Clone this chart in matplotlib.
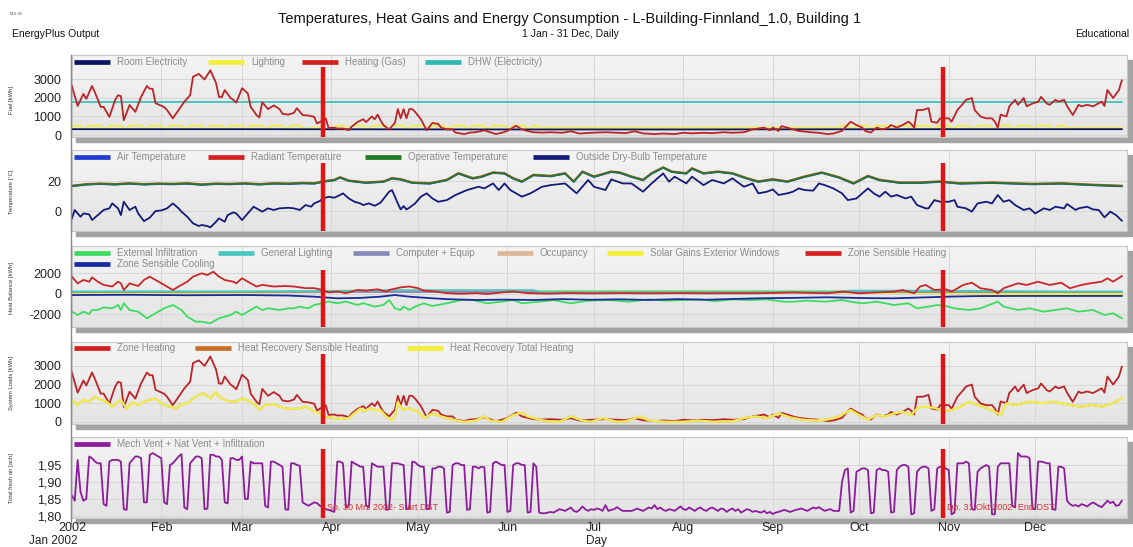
import matplotlib.pyplot as plt
import numpy as np
from matplotlib.lines import Line2D
from matplotlib.patches import Rectangle
from matplotlib.colors import LinearSegmentedColormap

plt.rcParams['font.family'] = ['Liberation Sans', 'DejaVu Sans']
plt.rcParams['axes.unicode_minus'] = False

# ---------------- data (day of year 2002, 0 = 1 Jan) ----------------
month_days = [0, 31, 59, 90, 120, 151, 181, 212, 243, 273, 304, 334]
month_labels = ['2002', 'Feb', 'Mar', 'Apr', 'May', 'Jun', 'Jul', 'Aug', 'Sep', 'Oct', 'Nov', 'Dec']
dst_days = [87, 302]
dst_labels = ['So. 30 Mrz 2002- Start DST', 'Do. 31 Okt 2002- End DST']

# heating (gas) = zone heating [kWh]
heat_days = [0, 2, 4, 5, 7, 8, 10, 11, 13, 15, 16, 17, 18, 20, 22, 24, 26, 27, 28, 29,
             32, 33, 35, 37, 39, 41, 42, 44, 46, 48, 50, 51, 52, 53, 55, 56, 57, 59, 61, 62,
             64, 65, 66, 68, 70, 72, 73, 75, 77, 78, 80, 82, 84, 85, 87, 88, 89, 91, 92, 94,
             96, 97, 99, 101, 102, 104, 105, 106, 107, 108, 110, 112, 113, 114, 115, 116, 117, 118, 119, 121,
             123, 125, 127, 128, 130, 132, 133, 136, 138, 140, 143, 145, 147, 149, 151, 154, 156, 158, 160, 163,
             166, 170, 173, 176, 180, 185, 188, 192, 195, 198, 202, 205, 209, 212, 215, 219, 222, 226, 229, 233,
             236, 240, 242, 243, 245, 246, 248, 250, 252, 256, 259, 262, 264, 267, 268, 270, 272, 274, 275, 277,
             279, 281, 283, 284, 286, 288, 290, 291, 292, 293, 295, 297, 298, 300, 301, 303, 304, 305, 307, 309,
             310, 312, 313, 315, 317, 319, 320, 321, 322, 324, 325, 327, 328, 330, 331, 333, 335, 336, 338, 339,
             341, 342, 344, 345, 347, 349, 350, 352, 354, 355, 357, 358, 359, 361, 363, 364]
heat_vals = [2650, 1570, 2220, 1950, 2650, 2300, 1520, 1520, 980, 1890, 2150, 2100, 800, 1620, 1250, 2060, 2650, 2500, 2500, 1720,
             1510, 1350, 900, 1350, 1800, 2150, 3150, 3300, 3000, 3500, 2800, 2060, 2050, 2430, 2000, 1900, 1750, 2530, 2250, 1520,
             1080, 950, 1770, 1400, 1600, 1400, 1150, 1100, 1200, 1450, 1080, 1050, 980, 620, 800, 900, 380, 400, 350, 350,
             260, 450, 700, 850, 700, 1000, 850, 1100, 800, 540, 300, 660, 1400, 900, 1400, 900, 1400, 1400, 1250, 850,
             260, 650, 600, 400, 300, 300, 130, 50, 130, 150, 250, 150, 50, 120, 220, 500, 300, 220, 150, 130,
             150, 120, 200, 80, 120, 150, 130, 100, 200, 90, 50, 80, 50, 120, 90, 120, 100, 150, 120, 150,
             300, 400, 250, 400, 220, 480, 400, 300, 220, 150, 120, 50, 80, 220, 400, 720, 540, 400, 220, 130,
             400, 300, 400, 540, 400, 540, 720, 600, 400, 1350, 1350, 1450, 720, 660, 900, 900, 900, 720, 1350, 1700,
             1900, 2000, 1350, 1000, 900, 900, 720, 400, 1100, 1000, 1550, 1900, 1630, 2000, 1550, 1700, 1800, 2060, 1700, 1630,
             1900, 1800, 1900, 1570, 1080, 1630, 1550, 1630, 1550, 1630, 1800, 1570, 2430, 2000, 2430, 2950]

# room electricity [kWh]
elec_days = [0, 31, 59, 90, 120, 151, 181, 212, 243, 273, 304, 334, 364]
elec_vals = [315, 315, 315, 310, 305, 300, 300, 300, 305, 310, 315, 315, 315]

# DHW (electricity) [kWh]
dhw_days = [0, 364]
dhw_vals = [1800, 1800]

# lighting [kWh], daily, rows of 7 days starting Tue 1 Jan
lighting_daily = [
    390, 500, 500, 500, 340, 340, 500,
    500, 500, 500, 500, 340, 340, 500,
    500, 500, 500, 500, 340, 340, 500,
    500, 500, 500, 500, 340, 340, 500,
    500, 500, 500, 500, 340, 340, 500,
    500, 500, 500, 500, 340, 340, 500,
    500, 500, 500, 500, 340, 340, 500,
    500, 500, 500, 500, 340, 340, 500,
    500, 500, 500, 500, 340, 340, 500,
    500, 500, 500, 500, 340, 340, 500,
    500, 500, 500, 500, 340, 340, 500,
    500, 500, 500, 390, 340, 340, 390,
    390, 390, 390, 390, 340, 340, 390,
    390, 500, 500, 500, 340, 340, 500,
    500, 500, 500, 500, 340, 340, 500,
    500, 500, 500, 500, 340, 340, 500,
    500, 500, 500, 500, 340, 340, 500,
    500, 500, 500, 500, 340, 340, 500,
    500, 500, 500, 500, 340, 340, 500,
    500, 500, 500, 500, 340, 340, 500,
    500, 500, 500, 500, 340, 340, 500,
    500, 500, 500, 500, 340, 340, 500,
    500, 500, 500, 500, 340, 340, 500,
    500, 390, 390, 390, 390, 390, 390,
    390, 390, 390, 390, 390, 390, 390,
    390, 390, 390, 390, 390, 390, 390,
    390, 390, 390, 390, 390, 390, 390,
    390, 390, 390, 390, 390, 390, 390,
    390, 390, 390, 390, 390, 390, 390,
    390, 390, 390, 390, 390, 390, 390,
    390, 390, 390, 390, 390, 390, 390,
    390, 390, 390, 390, 390, 390, 390,
    390, 390, 390, 390, 390, 390, 390,
    390, 390, 390, 390, 390, 390, 390,
    390, 390, 390, 390, 390, 390, 390,
    390, 390, 390, 390, 390, 390, 390,
    390, 390, 390, 390, 390, 390, 390,
    390, 390, 390, 390, 390, 390, 390,
    390, 500, 500, 500, 340, 340, 500,
    500, 500, 500, 500, 340, 340, 500,
    500, 500, 500, 500, 340, 340, 500,
    500, 500, 500, 500, 340, 340, 500,
    500, 500, 500, 500, 340, 340, 500,
    500, 500, 500, 500, 340, 340, 500,
    500, 500, 500, 500, 340, 340, 500,
    500, 500, 500, 500, 340, 340, 500,
    500, 500, 500, 500, 340, 340, 500,
    500, 500, 500, 500, 340, 340, 500,
    500, 500, 500, 500, 340, 340, 500,
    500, 500, 370, 370, 370, 370, 370,
    370, 370, 370, 370, 370, 370, 370,
    370, 370, 370, 370, 370, 370, 370,
    370]

# indoor temperatures [C]
indoor_days = [0, 5, 10, 15, 20, 25, 30, 35, 40, 45, 50, 55, 60, 65, 70, 75, 80, 84, 87, 91,
               93, 96, 102, 108, 111, 114, 118, 124, 130, 134, 139, 142, 146, 150, 153, 156, 160, 166, 171, 174,
               177, 181, 187, 190, 194, 198, 201, 205, 208, 213, 215, 219, 224, 229, 234, 238, 243, 248, 254, 260,
               266, 271, 276, 280, 287, 294, 301, 308, 319, 333, 343, 355, 364]
operative_temp = [16.7, 17.8, 18.2, 17.8, 18.4, 17.8, 18.2, 18.0, 18.4, 17.6, 18.2, 18.0, 18.4, 17.8, 18.4, 18.2, 18.6, 18.4, 19.6, 20.7,
                  22.4, 20.2, 18.9, 19.6, 21.8, 21.1, 18.9, 18.4, 20.7, 25.1, 21.8, 22.9, 25.6, 25.1, 21.8, 19.6, 24.0, 23.3, 25.1, 19.6,
                  26.2, 22.9, 26.2, 25.6, 22.9, 20.7, 25.1, 29.0, 26.2, 25.1, 28.4, 25.1, 26.2, 25.1, 21.8, 19.6, 21.1, 19.6, 22.9, 25.6,
                  22.4, 18.4, 23.3, 20.7, 18.9, 18.9, 19.6, 18.4, 18.9, 18.0, 18.4, 17.3, 16.7]
air_temp = [16.5, 17.6, 18.0, 17.6, 18.2, 17.6, 18.0, 17.8, 18.2, 17.4, 18.0, 17.8, 18.2, 17.6, 18.2, 18.0, 18.4, 18.2, 19.4, 20.5,
            22.2, 20.0, 18.7, 19.4, 21.6, 20.9, 18.7, 18.2, 20.5, 24.9, 21.6, 22.7, 25.4, 24.9, 21.6, 19.4, 23.8, 23.1, 24.9, 19.4,
            26.0, 22.7, 26.0, 25.4, 22.7, 20.5, 24.9, 28.8, 26.0, 24.9, 28.2, 24.9, 26.0, 24.9, 21.6, 19.4, 20.9, 19.4, 22.7, 25.4,
            22.2, 18.2, 23.1, 20.5, 18.7, 18.7, 19.4, 18.2, 18.7, 17.8, 18.2, 17.1, 16.5]
radiant_temp = [17.0, 18.1, 18.5, 18.1, 18.7, 18.1, 18.5, 18.3, 18.7, 17.9, 18.5, 18.3, 18.7, 18.1, 18.7, 18.5, 18.9, 18.7, 19.9, 21.0,
                22.7, 20.5, 19.2, 19.9, 22.1, 21.4, 19.2, 18.7, 21.0, 25.4, 22.1, 23.2, 25.9, 25.4, 22.1, 19.9, 24.3, 23.6, 25.4, 19.9,
                26.5, 23.2, 26.5, 25.9, 23.2, 21.0, 25.4, 29.3, 26.5, 25.4, 28.7, 25.4, 26.5, 25.4, 22.1, 19.9, 21.4, 19.9, 23.2, 25.9,
                22.7, 18.7, 23.6, 21.0, 19.2, 19.2, 19.9, 18.7, 19.2, 18.3, 18.7, 17.6, 17.0]

# outside dry-bulb temperature [C]
outside_days = [0, 1, 3, 4, 6, 7, 9, 11, 13, 14, 16, 17, 18, 20, 22, 23, 25, 27, 29, 31,
                33, 35, 37, 38, 40, 42, 44, 45, 47, 48, 50, 51, 53, 54, 56, 57, 59, 61, 63, 65,
                66, 68, 70, 72, 75, 77, 79, 81, 83, 84, 86, 87, 89, 91, 93, 94, 96, 98, 100, 101,
                103, 105, 107, 110, 111, 113, 114, 115, 116, 117, 119, 121, 123, 125, 127, 130, 133, 137, 141, 143,
                146, 148, 150, 152, 156, 159, 163, 166, 171, 175, 177, 179, 181, 185, 187, 191, 194, 198, 201, 205,
                207, 209, 213, 215, 219, 222, 226, 229, 233, 236, 238, 241, 243, 245, 248, 250, 252, 254, 257, 259,
                261, 264, 267, 269, 272, 274, 276, 278, 280, 282, 284, 286, 289, 291, 293, 296, 297, 299, 301, 304,
                306, 307, 310, 312, 314, 317, 319, 321, 323, 325, 327, 330, 332, 334, 337, 339, 341, 344, 345, 348,
                349, 352, 354, 356, 358, 360, 362, 364]
outside_temp = [-4.9, 0.7, -3.8, -1.6, -2.2, -6.0, -2.7, 0.7, 1.8, 5.1, 1.8, -2.7, 6.2, 0.7, 2.9, -1.6, -6.7, -4.4, 0.0, 0.4,
                1.8, 5.1, 1.8, -0.4, -3.8, -8.2, -10.0, -9.3, -10.0, -10.9, -7.1, -4.9, -7.1, -2.7, -0.9, -1.6, -6.0, -1.6, 2.9, 0.7,
                -0.4, 1.8, 0.7, 1.8, 2.2, 1.8, 0.7, 4.0, 2.9, 5.1, 6.7, 8.4, 9.5, 8.9, 10.7, 11.8, 8.4, 6.2, 5.1, 4.0,
                5.1, 3.5, 5.6, 12.9, 14.0, 5.1, 1.1, 3.3, 1.1, 2.2, 5.1, 9.6, 11.8, 8.4, 6.2, 7.3, 10.7, 14.0, 16.2, 15.1,
                18.4, 14.0, 18.4, 14.0, 9.6, 11.8, 16.2, 17.3, 18.4, 11.8, 16.2, 20.7, 16.2, 14.0, 21.1, 18.4, 18.4, 12.9, 18.4, 25.1,
                19.6, 22.9, 18.4, 22.9, 17.3, 20.7, 18.4, 21.8, 16.2, 18.4, 11.8, 12.9, 14.4, 10.7, 11.8, 12.9, 15.1, 14.0, 13.6, 18.4,
                17.3, 15.1, 11.8, 7.3, 8.4, 11.8, 15.1, 11.8, 9.6, 12.9, 9.6, 10.7, 8.4, 9.6, 4.0, 1.8, 1.8, 7.3, 6.2, 6.2,
                7.3, 2.9, 1.8, -0.4, 5.1, 6.2, 5.1, 10.7, 6.2, 7.3, 4.0, 0.7, 1.8, -1.6, 1.8, 0.7, 2.9, 1.8, 4.7, 0.7,
                1.8, 2.9, 1.1, 0.7, -4.2, -0.4, -2.7, -6.4]

# heat balance [kWh]
infil_days = [0, 2, 4, 6, 7, 9, 11, 14, 16, 17, 18, 20, 23, 26, 29, 32, 35, 38, 40, 43,
              45, 48, 51, 55, 57, 59, 62, 64, 66, 68, 72, 75, 77, 79, 82, 84, 87, 89, 92, 95,
              99, 101, 105, 108, 110, 112, 114, 115, 117, 119, 122, 125, 130, 135, 139, 144, 149, 153, 156, 162,
              167, 173, 179, 186, 193, 200, 206, 212, 218, 223, 229, 235, 241, 244, 247, 250, 255, 261, 267, 270,
              274, 279, 285, 290, 293, 297, 300, 303, 306, 311, 315, 318, 321, 323, 328, 332, 337, 341, 345, 349,
              354, 358, 361, 364]
infil_vals = [-1720, -2050, -1720, -1950, -1560, -1560, -1300, -1400, -1070, -1560, -900, -1560, -1720, -2370, -1880, -1400, -1070, -1560, -2210, -2700,
              -2700, -2860, -2370, -2050, -1720, -2050, -1560, -1230, -1560, -1400, -1560, -1400, -1400, -1230, -1400, -1070, -900, -740, -900, -740,
              -1070, -900, -1230, -1070, -590, -1400, -1560, -1230, -1560, -1230, -910, -1170, -910, -590, -590, -910, -750, -590, -910, -750,
              -590, -910, -650, -590, -750, -530, -650, -590, -530, -690, -530, -590, -530, -650, -750, -750, -650, -750, -585, -750,
              -910, -750, -1070, -910, -1400, -1230, -1070, -1170, -1400, -1560, -1400, -1070, -750, -1230, -1560, -1400, -1720, -1560, -1400, -1720,
              -1560, -2050, -1880, -2370]

zsh_days = [0, 2, 4, 6, 7, 9, 11, 14, 16, 17, 18, 20, 23, 25, 27, 29, 32, 35, 37, 40,
            42, 45, 47, 49, 51, 53, 56, 57, 59, 62, 64, 66, 70, 74, 77, 81, 84, 87, 89, 92,
            95, 99, 102, 106, 109, 110, 114, 117, 120, 122, 126, 130, 135, 140, 144, 149, 153, 158, 165, 172,
            180, 190, 200, 210, 220, 230, 238, 250, 262, 267, 273, 279, 285, 288, 292, 294, 296, 299, 303, 305,
            309, 312, 315, 319, 321, 323, 328, 331, 335, 339, 343, 346, 350, 353, 357, 359, 361, 364]
zsh_vals = [1690, 1040, 1370, 1200, 1630, 1200, 890, 730, 1200, 1040, 390, 1040, 780, 1370, 1690, 1370, 890, 390, 730, 1200,
            1690, 2020, 1850, 2180, 1690, 1370, 1200, 1040, 1530, 1040, 730, 890, 730, 780, 730, 570, 570, 390, 150, 250,
            80, 390, 330, 460, 230, 390, 650, 730, 570, 330, 250, 80, 20, 80, 0, 150, 250, 80, 30, 80,
            50, 80, 60, 80, 60, 70, 70, 150, 70, 230, 70, 150, 230, 390, 70, 720, 880, 390, 460, 230,
            880, 1100, 560, 390, 70, 560, 1040, 880, 1200, 880, 1100, 560, 880, 1040, 1200, 1530, 1200, 1750]

cool_days = [0, 20, 40, 60, 75, 84, 92, 100, 107, 112, 117, 125, 130, 140, 150, 160, 170, 180, 190, 200,
             210, 220, 230, 238, 250, 262, 275, 285, 297, 305, 315, 330, 345, 364]
cool_vals = [-100, -80, -120, -100, -150, -260, -420, -380, -260, -100, -260, -420, -500, -585, -550, -585, -500, -560, -520, -580,
             -500, -560, -480, -420, -380, -320, -400, -420, -320, -250, -200, -190, -190, -190]

genlight_days = [0, 30, 60, 90, 110, 130, 160, 162, 265, 270, 300, 345, 364]
genlight_vals = [250, 260, 260, 300, 380, 380, 380, 250, 250, 330, 330, 250, 250]

equip_days = [0, 364]
equip_vals = [150, 150]

occup_days = [0, 160, 162, 266, 268, 364]
occup_vals = [200, 200, 120, 120, 200, 200]

solar_days = [0, 30, 60, 90, 120, 150, 180, 210, 240, 270, 300, 330, 364]
solar_vals = [30, 60, 150, 250, 300, 250, 250, 250, 250, 200, 120, 40, 20]

# heat recovery total heating [kWh]
hr_days = [0, 2, 4, 6, 8, 10, 12, 14, 16, 17, 19, 21, 23, 25, 27, 29, 31, 33, 35, 36,
           38, 40, 42, 45, 46, 48, 50, 51, 53, 55, 57, 59, 62, 64, 65, 67, 70, 72, 74, 77,
           79, 81, 84, 86, 87, 89, 91, 93, 96, 98, 100, 101, 103, 105, 107, 109, 111, 112, 113, 114,
           115, 117, 120, 122, 125, 128, 132, 136, 140, 143, 145, 149, 153, 156, 158, 162, 165, 169, 173, 177,
           180, 184, 189, 192, 197, 200, 206, 212, 217, 223, 229, 233, 237, 241, 245, 249, 253, 258, 262, 266,
           270, 273, 276, 279, 282, 285, 288, 291, 293, 295, 299, 302, 305, 308, 311, 314, 317, 320, 322, 324,
           327, 332, 337, 340, 343, 347, 350, 354, 357, 361, 364]
hr_vals = [1180, 910, 1180, 1090, 1350, 1180, 1090, 800, 1090, 1180, 700, 1050, 910, 1090, 1180, 1260, 1000, 850, 800, 700,
           960, 1000, 1260, 1530, 1500, 1260, 1620, 1350, 1180, 1090, 1090, 1260, 1090, 820, 640, 910, 960, 820, 730, 700,
           730, 820, 550, 500, 210, 250, 210, 160, 210, 480, 730, 550, 730, 640, 640, 290, 90, 300, 1090, 800,
           640, 730, 550, 210, 460, 300, 130, 10, 80, 300, 80, 10, 370, 500, 300, 130, 40, 10, 300, 80,
           10, 210, 10, 40, 300, 80, 10, 10, 80, 10, 40, 210, 300, 210, 460, 250, 130, 80, 130, 300,
           640, 370, 130, 370, 300, 460, 550, 370, 730, 820, 760, 580, 640, 820, 1090, 910, 760, 550, 370, 1000,
           910, 1090, 1000, 1090, 1000, 880, 820, 910, 820, 1000, 1270]

# total fresh air [ach], daily, rows of 7 days starting Tue 1 Jan
vent_daily = [
    1.860, 1.845, 1.965, 1.870, 1.845, 1.850, 1.975,
    1.970, 1.960, 1.955, 1.955, 1.835, 1.830, 1.960,
    1.965, 1.965, 1.965, 1.960, 1.820, 1.818, 1.955,
    1.965, 1.975, 1.975, 1.970, 1.840, 1.840, 1.980,
    1.985, 1.980, 1.975, 1.970, 1.840, 1.835, 1.950,
    1.955, 1.965, 1.975, 1.982, 1.825, 1.820, 1.955,
    1.965, 1.975, 1.975, 1.970, 1.820, 1.822, 1.980,
    1.980, 1.975, 1.975, 1.965, 1.840, 1.837, 1.970,
    1.970, 1.965, 1.965, 1.975, 1.850, 1.850, 1.960,
    1.955, 1.955, 1.955, 1.955, 1.830, 1.825, 1.960,
    1.960, 1.955, 1.950, 1.945, 1.820, 1.818, 1.955,
    1.955, 1.950, 1.948, 1.840, 1.835, 1.830, 1.835,
    1.840, 1.838, 1.830, 1.825, 1.820, 1.818, 1.815,
    1.812, 1.960, 1.960, 1.955, 1.825, 1.830, 1.960,
    1.955, 1.950, 1.945, 1.945, 1.830, 1.825, 1.955,
    1.950, 1.945, 1.945, 1.945, 1.818, 1.820, 1.955,
    1.955, 1.955, 1.952, 1.950, 1.820, 1.822, 1.960,
    1.958, 1.950, 1.945, 1.945, 1.820, 1.822, 1.940,
    1.940, 1.945, 1.945, 1.940, 1.810, 1.812, 1.950,
    1.955, 1.955, 1.950, 1.950, 1.818, 1.820, 1.945,
    1.945, 1.940, 1.945, 1.943, 1.810, 1.812, 1.955,
    1.960, 1.955, 1.950, 1.950, 1.812, 1.815, 1.950,
    1.955, 1.955, 1.950, 1.950, 1.810, 1.812, 1.955,
    1.945, 1.810, 1.808, 1.808, 1.810, 1.812, 1.810,
    1.815, 1.820, 1.818, 1.815, 1.820, 1.825, 1.815,
    1.812, 1.818, 1.828, 1.820, 1.815, 1.820, 1.818,
    1.822, 1.820, 1.815, 1.832, 1.815, 1.818, 1.820,
    1.826, 1.820, 1.815, 1.815, 1.815, 1.815, 1.818,
    1.822, 1.818, 1.815, 1.820, 1.825, 1.822, 1.832,
    1.820, 1.825, 1.818, 1.815, 1.820, 1.818, 1.815,
    1.822, 1.828, 1.820, 1.818, 1.825, 1.820, 1.815,
    1.822, 1.825, 1.818, 1.815, 1.822, 1.825, 1.820,
    1.815, 1.822, 1.820, 1.812, 1.818, 1.822, 1.815,
    1.820, 1.810, 1.815, 1.820, 1.818, 1.812, 1.815,
    1.812, 1.810, 1.815, 1.808, 1.812, 1.806, 1.810,
    1.812, 1.815, 1.818, 1.815, 1.812, 1.815, 1.818,
    1.820, 1.822, 1.818, 1.815, 1.820, 1.825, 1.822,
    1.826, 1.820, 1.815, 1.818, 1.820, 1.815, 1.815,
    1.815, 1.900, 1.935, 1.940, 1.810, 1.815, 1.930,
    1.935, 1.940, 1.940, 1.935, 1.808, 1.810, 1.935,
    1.940, 1.935, 1.935, 1.930, 1.810, 1.812, 1.935,
    1.945, 1.950, 1.950, 1.945, 1.805, 1.808, 1.930,
    1.940, 1.945, 1.945, 1.940, 1.815, 1.820, 1.940,
    1.945, 1.945, 1.940, 1.935, 1.805, 1.810, 1.955,
    1.955, 1.955, 1.960, 1.955, 1.820, 1.818, 1.930,
    1.940, 1.945, 1.950, 1.945, 1.805, 1.805, 1.945,
    1.955, 1.955, 1.955, 1.955, 1.830, 1.825, 1.985,
    1.975, 1.975, 1.975, 1.970, 1.822, 1.820, 1.960,
    1.960, 1.958, 1.955, 1.955, 1.820, 1.818, 1.945,
    1.945, 1.940, 1.845, 1.835, 1.830, 1.832, 1.828,
    1.835, 1.832, 1.828, 1.835, 1.840, 1.835, 1.830,
    1.826, 1.835, 1.845, 1.838, 1.842, 1.830, 1.832,
    1.845]

# ---------------- layout ----------------
W, H = 1133, 547
fig = plt.figure(figsize=(W / 100, H / 100), dpi=100)


def fx(px):
    return px / W


def fy(py):
    return 1 - py / H


left_px, right_px = 71, 1127
panel_px = [(55, 137), (150, 231), (246, 327), (342, 424), (437, 518)]
grad_cmap = LinearSegmentedColormap.from_list('bg', ['#e4e4e4', '#f4f4f4'])

axes = []
for top, bot in panel_px:
    # drop shadow
    fig.add_artist(Rectangle((fx(left_px + 5), fy(bot + 5)), (right_px - left_px) / W, (bot - top) / H,
                             transform=fig.transFigure, color='#a3a3a3', zorder=-5))
    ax = fig.add_axes([fx(left_px), fy(bot), (right_px - left_px) / W, (bot - top) / H])
    ax.imshow(np.linspace(0, 1, 50)[:, None], extent=(0, 1, 0, 1), transform=ax.transAxes,
              cmap=grad_cmap, origin='lower', aspect='auto', zorder=-10)
    for s in ax.spines.values():
        s.set_color('#c8c8c8')
        s.set_linewidth(0.8)
    ax.spines['left'].set_color('#808080')
    ax.set_xlim(-0.3, 365.8)
    ax.set_xticks(month_days)
    ax.tick_params(axis='y', length=0, labelsize=9, pad=7, colors='#222222')
    ax.tick_params(axis='x', length=0, labelsize=9, pad=3, colors='#222222')
    ax.grid(True, color='#d6d6d6', lw=0.7)
    ax.set_axisbelow(True)
    axes.append(ax)

days = np.arange(365)
ax1, ax2, ax3, ax4, ax5 = axes

# panel 1: fuel
ax1.plot(dhw_days, dhw_vals, color='#3fc2bb', lw=1.3)
ax1.plot(days, lighting_daily, color='#f0ec5a', lw=1.6)
ax1.plot(elec_days, elec_vals, color='#0b1560', lw=1.3)
ax1.plot(heat_days, heat_vals, color='#bb2428', lw=1.3)
ax1.set_ylim(-108, 4324)
ax1.set_yticks([0, 1000, 2000, 3000])

# panel 2: temperature
ax2.plot(outside_days, outside_temp, color='#141a78', lw=1.3)
ax2.plot(indoor_days, air_temp, color='#2040c8', lw=1.3)
ax2.plot(indoor_days, radiant_temp, color='#d8502a', lw=1.3)
ax2.plot(indoor_days, operative_temp, color='#237a2a', lw=1.3)
ax2.set_ylim(-13.3, 40.7)
ax2.set_yticks([0, 20])

# panel 3: heat balance
ax3.plot(solar_days, solar_vals, color='#f2ee3a', lw=2.2)
ax3.plot(occup_days, occup_vals, color='#dcb898', lw=1.3)
ax3.plot(equip_days, equip_vals, color='#8a8ab8', lw=1.3)
ax3.plot(genlight_days, genlight_vals, color='#4cc8c2', lw=1.3)
ax3.plot(infil_days, infil_vals, color='#3ddc5e', lw=1.3)
ax3.plot(cool_days, cool_vals, color='#1a2a9a', lw=1.3)
ax3.plot(zsh_days, zsh_vals, color='#c8282a', lw=1.3)
ax3.set_ylim(-3220, 4683)
ax3.set_yticks([-2000, 0, 2000])

# panel 4: system loads
ax4.plot(hr_days, hr_vals, color='#c8702a', lw=1.3)
ax4.plot(heat_days, heat_vals, color='#bb2428', lw=1.3)
ax4.plot(hr_days, hr_vals, color='#f2ee50', lw=1.6)
ax4.set_ylim(-107, 4278)
ax4.set_yticks([0, 1000, 2000, 3000])

# panel 5: fresh air
ax5.plot(days, vent_daily, color='#8c1c9c', lw=1.3)
ax5.set_ylim(1.7941, 2.0324)
ax5.set_yticks([1.80, 1.85, 1.90, 1.95])
ax5.set_yticklabels(['1,80', '1,85', '1,90', '1,95'])

for ax in axes[:4]:
    ax.set_xticklabels([])
ax5.set_xticklabels(month_labels)

# DST markers
dst_tops = [0.854, 0.843, 0.704, 0.854, 0.852]
for ax, ytop in zip(axes, dst_tops):
    for d in dst_days:
        ax.plot([d, d], [0.0, ytop], color='#e01414', lw=3.2, transform=ax.get_xaxis_transform(),
                solid_capstyle='butt', zorder=5)
for d, lab in zip(dst_days, dst_labels):
    ax5.text(d + 1.4, 1.826, lab, color='#d83030', fontsize=6.5, va='center', ha='left', zorder=4)

# legends drawn as rows of handles
legend_rows = [
    (62, [('Room Electricity', '#0b1560', 74), ('Lighting', '#f2ee3a', 208),
          ('Heating (Gas)', '#d42020', 302), ('DHW (Electricity)', '#2fb8b0', 425)]),
    (157, [('Air Temperature', '#1e3cd0', 74), ('Radiant Temperature', '#d42020', 208),
           ('Operative Temperature', '#1f7a22', 365), ('Outside Dry-Bulb Temperature', '#141a78', 533)]),
    (253, [('External Infiltration', '#3ddc5e', 74), ('General Lighting', '#4cc8c2', 218),
           ('Computer + Equip', '#8a8ab8', 353), ('Occupancy', '#dcb898', 497),
           ('Solar Gains Exterior Windows', '#f2ee3a', 607), ('Zone Sensible Heating', '#d42020', 805)]),
    (264, [('Zone Sensible Cooling', '#1a2aa0', 74)]),
    (348, [('Zone Heating', '#d42020', 74), ('Heat Recovery Sensible Heating', '#c8702a', 195),
           ('Heat Recovery Total Heating', '#f2ee3a', 407)]),
    (444, [('Mech Vent + Nat Vent + Infiltration', '#8c1c9c', 74)]),
]
for ypx, items in legend_rows:
    for label, color, xpx in items:
        fig.add_artist(Line2D([fx(xpx), fx(xpx + 36)], [fy(ypx), fy(ypx)], color=color, lw=3.4,
                              transform=fig.transFigure, solid_capstyle='butt'))
        fig.text(fx(xpx + 43), fy(ypx), label, color='#8c8c8c', fontsize=7, va='center', ha='left')

# y axis labels
ylabels = [('Fuel [kWh]', 100), ('Temperature [°C]', 192), ('Heat Balance [kWh]', 288),
           ('System Loads [kWh]', 383), ('Total fresh air [ach]', 478)]
for lab, ypx in ylabels:
    fig.text(fx(12), fy(ypx), lab, rotation=90, fontsize=4.2, color='#333333', ha='center', va='center')

# continuous left rule
fig.add_artist(Line2D([fx(71), fx(71)], [fy(55), fy(526)], color='#8a8a8a', lw=1.0, transform=fig.transFigure))

# titles
fig.text(fx(570), fy(19), 'Temperatures, Heat Gains and Energy Consumption - L-Building-Finnland_1.0, Building 1',
         fontsize=10.5, ha='center', va='center', color='#111111')
fig.text(fx(570), fy(34), '1 Jan - 31 Dec, Daily', fontsize=7.5, ha='center', va='center', color='#111111')
fig.text(fx(12), fy(34), 'EnergyPlus Output', fontsize=7.5, ha='left', va='center', color='#111111')
fig.text(fx(1129), fy(34), 'Educational', fontsize=7.5, ha='right', va='center', color='#111111')
fig.text(fx(10), fy(14), '515.65', fontsize=3.2, ha='left', va='center', color='#555555')
fig.text(fx(53), fy(541), 'Jan 2002', fontsize=8.5, ha='center', va='center', color='#222222')
fig.text(fx(596), fy(541), 'Day', fontsize=8.5, ha='center', va='center', color='#222222')

fig.savefig('out.png', dpi=100)
